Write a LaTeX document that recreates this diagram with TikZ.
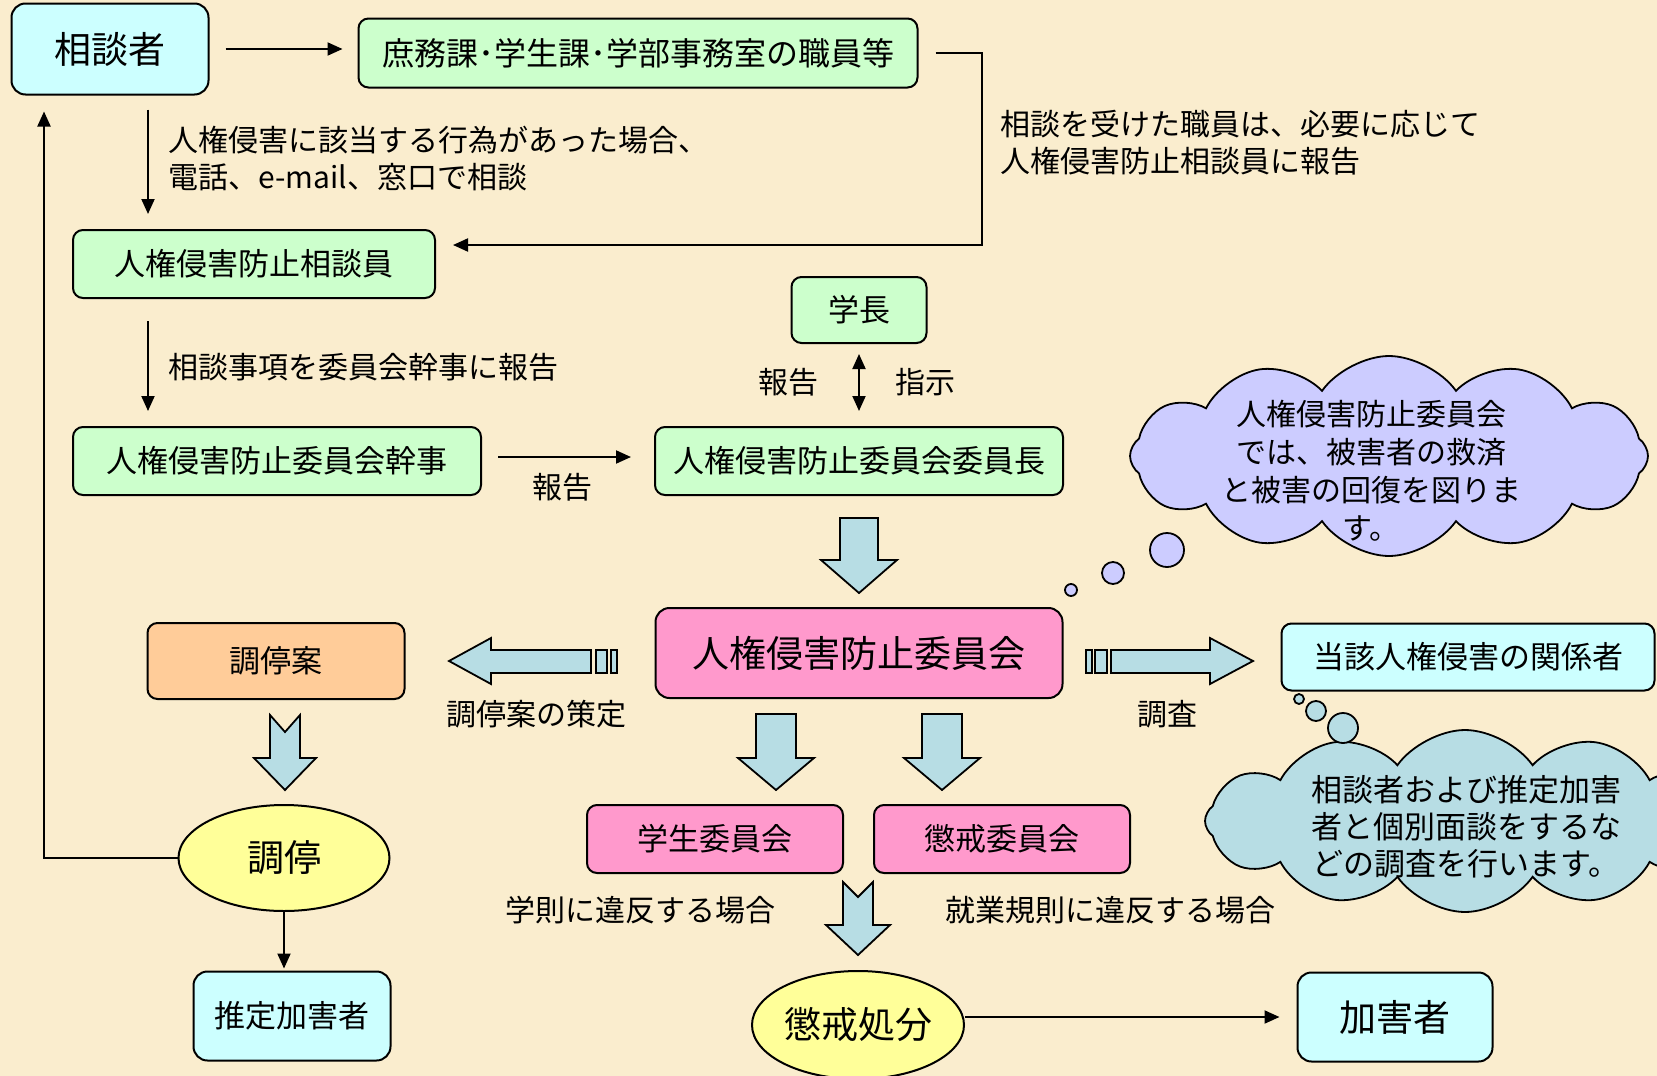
\documentclass[tikz,border=0pt]{standalone}
\usepackage{fontspec}
\setmainfont{Noto Sans CJK JP}
\usetikzlibrary{arrows.meta}
\usetikzlibrary{shapes.geometric}
\usetikzlibrary{shapes.symbols}
\definecolor{bgpaper}{RGB}{250,237,206}
\definecolor{boxcyan}{RGB}{204,255,255}
\definecolor{boxgreen}{RGB}{204,255,204}
\definecolor{boxpink}{RGB}{255,153,204}
\definecolor{boxorange}{RGB}{255,204,153}
\definecolor{boxyellow}{RGB}{255,255,153}
\definecolor{arrowblue}{RGB}{183,221,228}
\definecolor{cloudlilac}{RGB}{204,204,255}
\tikzset{
    >={Triangle[length=15pt,width=13pt]},
    box/.style={draw,line width=2pt,rounded corners=10pt,inner sep=0pt,align=center},
    oval/.style={draw,ellipse,line width=2pt,fill=boxyellow,inner sep=0pt},
    link/.style={line width=2pt,->},
    blockarrow/.style={draw,line width=1.8pt,fill=arrowblue,line join=miter},
    talk/.style={draw,cloud,cloud puffs=12,cloud puff arc=110,cloud ignores aspect,line width=1.8pt,inner sep=0pt},
    bubble/.style={draw,line width=1.8pt},
    note/.style={inner sep=0pt,align=left,font=\fontsize{30}{37}\selectfont}
}
\newcommand{\bigfont}{\fontsize{37}{44}\selectfont}
\newcommand{\boxfont}{\fontsize{31}{37}\selectfont}
% down block arrow: x, top, head base, tip, half shaft, half head
\newcommand{\downblock}[6]{\draw[blockarrow] (#1-#5,#2) -- (#1+#5,#2) -- (#1+#5,#3) -- (#1+#6,#3) -- (#1,#4) -- (#1-#6,#3) -- (#1-#5,#3) -- cycle;}
% the same with a notch in the tail: x, top, notch, head base, tip, half shaft, half head
\newcommand{\notchblock}[7]{\draw[blockarrow] (#1-#6,#2) -- (#1,#3) -- (#1+#6,#2) -- (#1+#6,#4) -- (#1+#7,#4) -- (#1,#5) -- (#1-#7,#4) -- (#1-#6,#4) -- cycle;}

\begin{document}
\begin{tikzpicture}[x=1pt,y=-1pt]
\useasboundingbox (0,0) rectangle (1657,1076);
\clip (0,0) rectangle (1657,1076);
\fill[bgpaper] (0,0) rectangle (1657,1076);

% boxes
\node[box,fill=boxcyan,rounded corners=14pt,minimum width=197pt,minimum height=91pt,font=\bigfont] (sodan) at (110,49) {相談者};
\node[box,fill=boxgreen,minimum width=559pt,minimum height=69pt,font=\fontsize{32}{38}\selectfont] (shomu) at (638,53) {庶務課･学生課･学部事務室の職員等};
\node[box,fill=boxgreen,minimum width=362pt,minimum height=68pt,font=\boxfont] (soudanin) at (254,264) {人権侵害防止相談員};
\node[box,fill=boxgreen,minimum width=135pt,minimum height=66pt,font=\boxfont] (gakuchou) at (859,310) {学長};
\node[box,fill=boxgreen,minimum width=408pt,minimum height=68pt,font=\boxfont] (kanji) at (277,461) {人権侵害防止委員会幹事};
\node[box,fill=boxgreen,minimum width=408pt,minimum height=68pt,font=\boxfont] (iinchou) at (859,461) {人権侵害防止委員会委員長};
\node[box,fill=boxpink,rounded corners=14pt,minimum width=407pt,minimum height=90pt,font=\bigfont] (iinkai) at (859,653) {人権侵害防止委員会};
\node[box,fill=boxorange,minimum width=257pt,minimum height=76pt,font=\boxfont] (choteian) at (276,661) {調停案};
\node[box,fill=boxcyan,minimum width=373pt,minimum height=67pt,font=\boxfont] (kankei) at (1468,657) {当該人権侵害の関係者};
\node[box,fill=boxpink,minimum width=256pt,minimum height=68pt,font=\boxfont] (gakusei) at (715,839) {学生委員会};
\node[box,fill=boxpink,minimum width=256pt,minimum height=68pt,font=\boxfont] (choukaiiin) at (1002,839) {懲戒委員会};
\node[box,fill=boxcyan,rounded corners=14pt,minimum width=197pt,minimum height=89pt,font=\boxfont] (suitei) at (292,1016) {推定加害者};
\node[box,fill=boxcyan,rounded corners=14pt,minimum width=195pt,minimum height=89pt,font=\bigfont] (kagaisha) at (1395,1017) {加害者};
\node[oval,minimum width=211pt,minimum height=106pt,font=\bigfont] (chotei) at (284,858) {調停};
\node[oval,minimum width=212pt,minimum height=108pt,font=\bigfont] (choukai) at (858,1025) {懲戒処分};

% clouds
\node[talk,fill=cloudlilac,minimum width=518pt,minimum height=200pt] (kumoA) at (1389,456) {};
\draw[bubble,fill=cloudlilac] (1167,550) circle (17pt);
\draw[bubble,fill=cloudlilac] (1113,573) circle (11pt);
\draw[bubble,fill=cloudlilac] (1071,590) circle (6pt);
\node[align=center,inner sep=0pt,font=\fontsize{30}{38}\selectfont] (kumoAtext) at (1371,471) {人権侵害防止委員会\\では、被害者の救済\\と被害の回復を図りま\\す。};
\node[talk,fill=arrowblue,minimum width=520pt,minimum height=182pt] (kumoB) at (1465,821) {};
\draw[bubble,fill=arrowblue] (1343,728) circle (15pt);
\draw[bubble,fill=arrowblue] (1316,711) circle (10pt);
\draw[bubble,fill=arrowblue] (1299,699) circle (5pt);
\node[align=center,inner sep=0pt,font=\fontsize{31}{37}\selectfont] (kumoBtext) at (1466,827) {相談者および推定加害\\者と個別面談をするな\\どの調査を行います。};

% block arrows
\downblock{859}{518}{560}{593}{19}{38}
\downblock{776}{714}{758}{790}{20}{38}
\downblock{942}{714}{758}{790}{20}{38}
\notchblock{285}{715}{732}{758}{790}{15}{31}
\notchblock{858}{882}{897}{925}{955}{15}{32}
\draw[blockarrow] (591,650) -- (491,650) -- (491,638) -- (449,661) -- (491,684) -- (491,673) -- (591,673) -- cycle;
\draw[blockarrow] (596,650) rectangle (607,673);
\draw[blockarrow] (611,650) rectangle (617,673);
\draw[blockarrow] (1111,650) -- (1210,650) -- (1210,638) -- (1253,661) -- (1210,684) -- (1210,673) -- (1111,673) -- cycle;
\draw[blockarrow] (1086,650) rectangle (1092,673);
\draw[blockarrow] (1095,650) rectangle (1107,673);

% connectors
\draw[link,shorten <=16pt,shorten >=15pt] (sodan.east) -- (sodan.east -| shomu.west);
\draw[link,shorten >=17pt] ([xshift=17pt]shomu.east) -- ++(46,0) |- ([yshift=19pt]soudanin.east);
\draw[link,shorten <=14pt,shorten >=15pt] ([xshift=38pt]sodan.south) -- ([xshift=38pt]sodan.south |- soudanin.north);
\draw[link,shorten <=22pt,shorten >=15pt] ([xshift=-106pt]soudanin.south) -- ([xshift=-106pt]soudanin.south |- kanji.north);
\draw[link,shorten <=16pt,shorten >=23pt] ([yshift=4pt]kanji.east) -- ([yshift=4pt]iinchou.west);
\draw[link,<->,shorten <=10pt,shorten >=15pt] (gakuchou.south) -- (iinchou.north);
\draw[link] (chotei.west) -| ([xshift=-66pt,yshift=-16pt]sodan.south);
\draw[link,shorten >=2pt] (chotei.south) -- (chotei.south |- suitei.north);
\draw[link,shorten >=17pt] (choukai.east |- kagaisha.west) -- (kagaisha.west);

% labels
\node[note,anchor=west] (tsuhou) at (168,159) {人権侵害に該当する行為があった場合、\\電話、e-mail、窓口で相談};
\node[note,anchor=west] (shokuin) at (1000,143) {相談を受けた職員は、必要に応じて\\人権侵害防止相談員に報告};
\node[note,anchor=west] (jikou) at (168,367) {相談事項を委員会幹事に報告};
\node[note] (houkokuA) at (562,487) {報告};
\node[note] (houkokuB) at (788,382) {報告};
\node[note] (shiji) at (925,382) {指示};
\node[note] (sakutei) at (536,714) {調停案の策定};
\node[note] (chousa) at (1167,714) {調査};
\node[note] (gakusoku) at (640,910) {学則に違反する場合};
\node[note] (shugyou) at (1110,910) {就業規則に違反する場合};
\end{tikzpicture}
\end{document}
